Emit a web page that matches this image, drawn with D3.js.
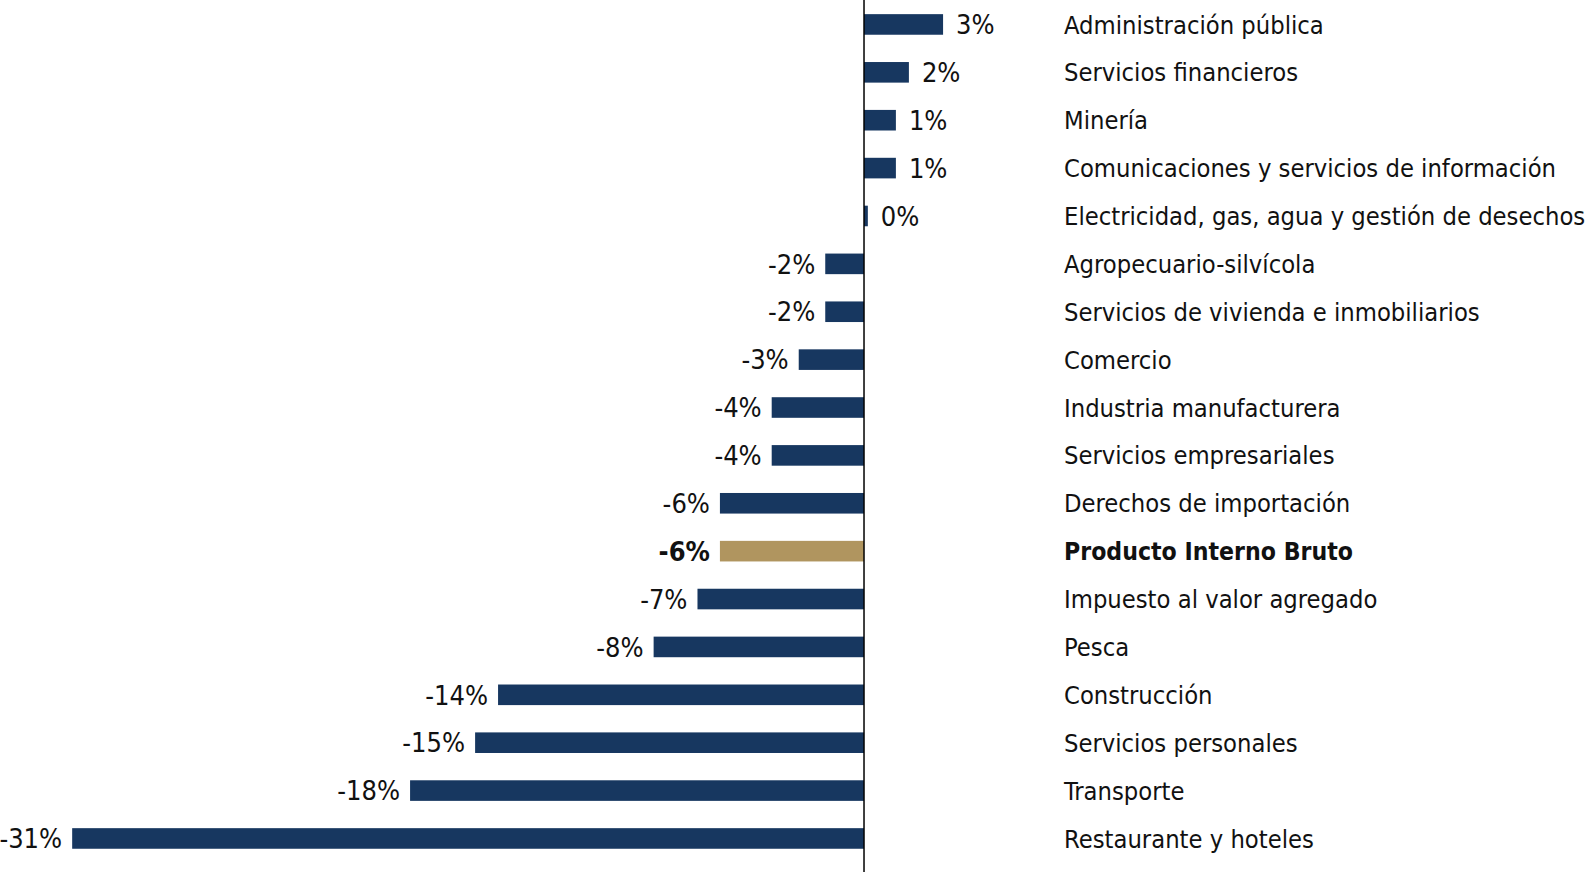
<!DOCTYPE html>
<html>
<head>
<meta charset="utf-8">
<script src="https://cdn.jsdelivr.net/npm/d3@7"></script>
<style>
  body { margin: 0; background: #fff; }
  svg text { font-family: "Liberation Sans Narrow", "DejaVu Sans Condensed", "Roboto", sans-serif; fill: #111; }
</style>
</head>
<body>
<div class="chart"></div>
<script>
// sectores, de arriba hacia abajo
const sectors = [
  "Administración pública",
  "Servicios financieros",
  "Minería",
  "Comunicaciones y servicios de información",
  "Electricidad, gas, agua y gestión de desechos",
  "Agropecuario-silvícola",
  "Servicios de vivienda e inmobiliarios",
  "Comercio",
  "Industria manufacturera",
  "Servicios empresariales",
  "Derechos de importación",
  "Producto Interno Bruto",
  "Impuesto al valor agregado",
  "Pesca",
  "Construcción",
  "Servicios personales",
  "Transporte",
  "Restaurante y hoteles"
];
// variación (%)
const change = [3.1, 1.76, 1.25, 1.25, 0.15, -1.52, -1.52, -2.56, -3.62, -3.62,
  -5.65, -5.65, -6.53, -8.25, -14.35, -15.25, -17.8, -31.05];
const highlight = "Producto Interno Bruto";

const width = 1587;
const height = 872;

const data = sectors.map((s, i) => ({ sector: s, value: change[i] }));

const svg = d3.select(".chart")
  .append("svg")
  .attr("width", width)
  .attr("height", height);

const xScale = d3.scaleLinear()
  .domain([-33.88, 28.35])
  .range([0, width]);

const yScale = d3.scaleBand()
  .domain(sectors)
  .range([0.5, 862.4])
  .paddingInner(0.57)
  .paddingOuter(0.285);

const fmt = d => d.toFixed(0) + "%";

svg.selectAll(".bar")
  .data(data)
  .enter()
  .append("rect")
  .attr("class", "bar")
  .attr("fill", d => d.sector === highlight ? "#b0955f" : "#173760")
  .attr("x", d => xScale(Math.min(0, d.value)))
  .attr("y", d => yScale(d.sector))
  .attr("width", d => Math.abs(xScale(d.value) - xScale(0)))
  .attr("height", yScale.bandwidth());

svg.selectAll(".value")
  .data(data)
  .enter()
  .append("text")
  .attr("class", "value")
  .attr("x", d => d.value < 0 ? xScale(d.value) - 10 : xScale(d.value) + 13)
  .attr("y", d => yScale(d.sector) + yScale.bandwidth() / 2)
  .attr("dy", "0.36em")
  .attr("text-anchor", d => d.value < 0 ? "end" : "start")
  .style("font-size", "27px")
  .style("font-weight", d => d.sector === highlight ? "bold" : "normal")
  .text(d => fmt(d.value));

svg.selectAll(".cat")
  .data(data)
  .enter()
  .append("text")
  .attr("class", "cat")
  .attr("x", 1064)
  .attr("y", d => yScale(d.sector) + yScale.bandwidth() / 2)
  .attr("dy", "0.36em")
  .style("font-size", d => d.sector === highlight ? "24.6px" : "25.3px")
  .style("font-weight", d => d.sector === highlight ? "bold" : "normal")
  .text(d => d.sector);

// eje en cero
svg.append("line")
  .attr("x1", xScale(0))
  .attr("x2", xScale(0))
  .attr("y1", 0)
  .attr("y2", height)
  .attr("stroke", "#000")
  .attr("stroke-width", 1.5);
</script>
</body>
</html>
